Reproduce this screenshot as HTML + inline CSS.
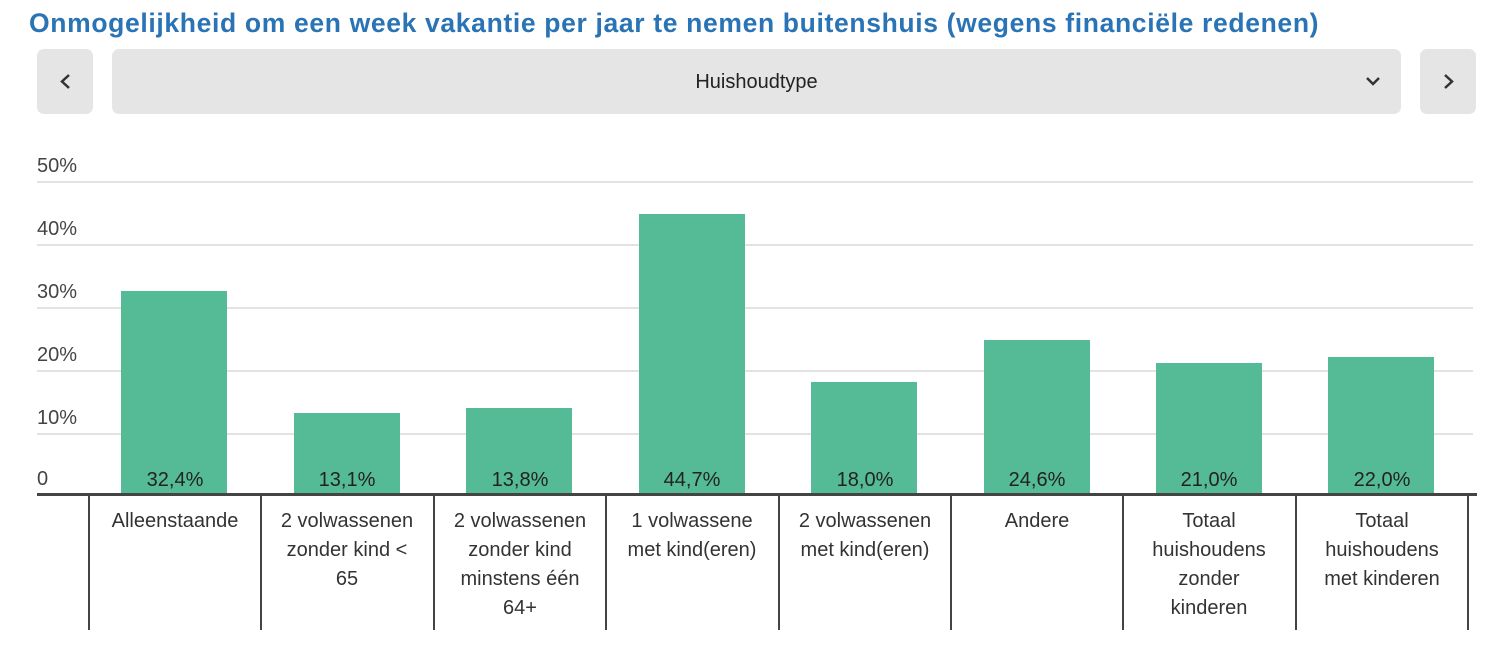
<!DOCTYPE html>
<html><head><meta charset="utf-8"><style>
body{margin:0;width:1503px;height:651px;background:#fff;font-family:"Liberation Sans",sans-serif;position:relative;overflow:hidden}
.t{position:absolute;left:29px;top:8px;font-size:26.5px;font-weight:bold;color:#2a74b5;white-space:nowrap;letter-spacing:0.65px}
.btn{position:absolute;top:49px;height:65px;background:#e5e5e5;border-radius:7px}
.yl{position:absolute;left:37px;font-size:20px;color:#444}
.g{position:absolute;left:37px;width:1436px;height:2px;background:#e3e3e3}
.bar{position:absolute;width:106px;background:#55bb97}
.v{position:absolute;width:172px;text-align:center;font-size:20px;color:#222;top:469px}
.sep{position:absolute;top:495px;height:135px;width:2px;background:#444}
.c{position:absolute;top:507px;width:142px;padding:0 15px;text-align:center;font-size:20px;line-height:29px;color:#333}
</style></head><body>
<div class="t">Onmogelijkheid om een week vakantie per jaar te nemen buitenshuis (wegens financiële redenen)</div>
<div class="btn" style="left:37px;width:56px"><svg width="56" height="65"><polyline points="32,26 25,32.5 32,39" fill="none" stroke="#333" stroke-width="2.5"/></svg></div>
<div class="btn" style="left:112px;width:1289px"><div style="position:absolute;left:0;right:0;top:22px;text-align:center;font-size:20px;color:#222">Huishoudtype</div><svg style="position:absolute;right:18px;top:24px" width="20" height="16"><polyline points="4,5 10,11 16,5" fill="none" stroke="#333" stroke-width="2.5"/></svg></div>
<div class="btn" style="left:1420px;width:56px"><svg width="56" height="65"><polyline points="25,26 32,32.5 25,39" fill="none" stroke="#333" stroke-width="2.5"/></svg></div>

<div class="g" style="top:181px"></div><div class="g" style="top:244px"></div><div class="g" style="top:307px"></div><div class="g" style="top:370px"></div><div class="g" style="top:433px"></div>
<div class="yl" style="top:155px">50%</div><div class="yl" style="top:218px">40%</div><div class="yl" style="top:281px">30%</div><div class="yl" style="top:344px">20%</div><div class="yl" style="top:407px">10%</div><div class="yl" style="top:468px">0</div>

<div class="bar" style="left:121px;top:291px;height:204px"></div>
<div class="bar" style="left:294px;top:413px;height:82px"></div>
<div class="bar" style="left:466px;top:408px;height:87px"></div>
<div class="bar" style="left:639px;top:214px;height:281px"></div>
<div class="bar" style="left:811px;top:382px;height:113px"></div>
<div class="bar" style="left:984px;top:340px;height:155px"></div>
<div class="bar" style="left:1156px;top:363px;height:132px"></div>
<div class="bar" style="left:1328px;top:357px;height:138px"></div>

<div class="v" style="left:89px">32,4%</div><div class="v" style="left:261px">13,1%</div><div class="v" style="left:434px">13,8%</div><div class="v" style="left:606px">44,7%</div><div class="v" style="left:779px">18,0%</div><div class="v" style="left:951px">24,6%</div><div class="v" style="left:1123px">21,0%</div><div class="v" style="left:1296px">22,0%</div>

<div style="position:absolute;left:37px;top:493px;width:1440px;height:3px;background:#444"></div>
<div class="sep" style="left:88px"></div><div class="sep" style="left:260px"></div><div class="sep" style="left:433px"></div><div class="sep" style="left:605px"></div><div class="sep" style="left:778px"></div><div class="sep" style="left:950px"></div><div class="sep" style="left:1122px"></div><div class="sep" style="left:1295px"></div><div class="sep" style="left:1467px"></div>

<div class="c" style="left:89px">Alleenstaande</div>
<div class="c" style="left:261px">2 volwassenen zonder kind &lt; 65</div>
<div class="c" style="left:434px">2 volwassenen zonder kind minstens één 64+</div>
<div class="c" style="left:606px">1 volwassene met kind(eren)</div>
<div class="c" style="left:779px">2 volwassenen met kind(eren)</div>
<div class="c" style="left:951px">Andere</div>
<div class="c" style="left:1123px">Totaal huishoudens zonder kinderen</div>
<div class="c" style="left:1296px">Totaal huishoudens met kinderen</div>
</body></html>
